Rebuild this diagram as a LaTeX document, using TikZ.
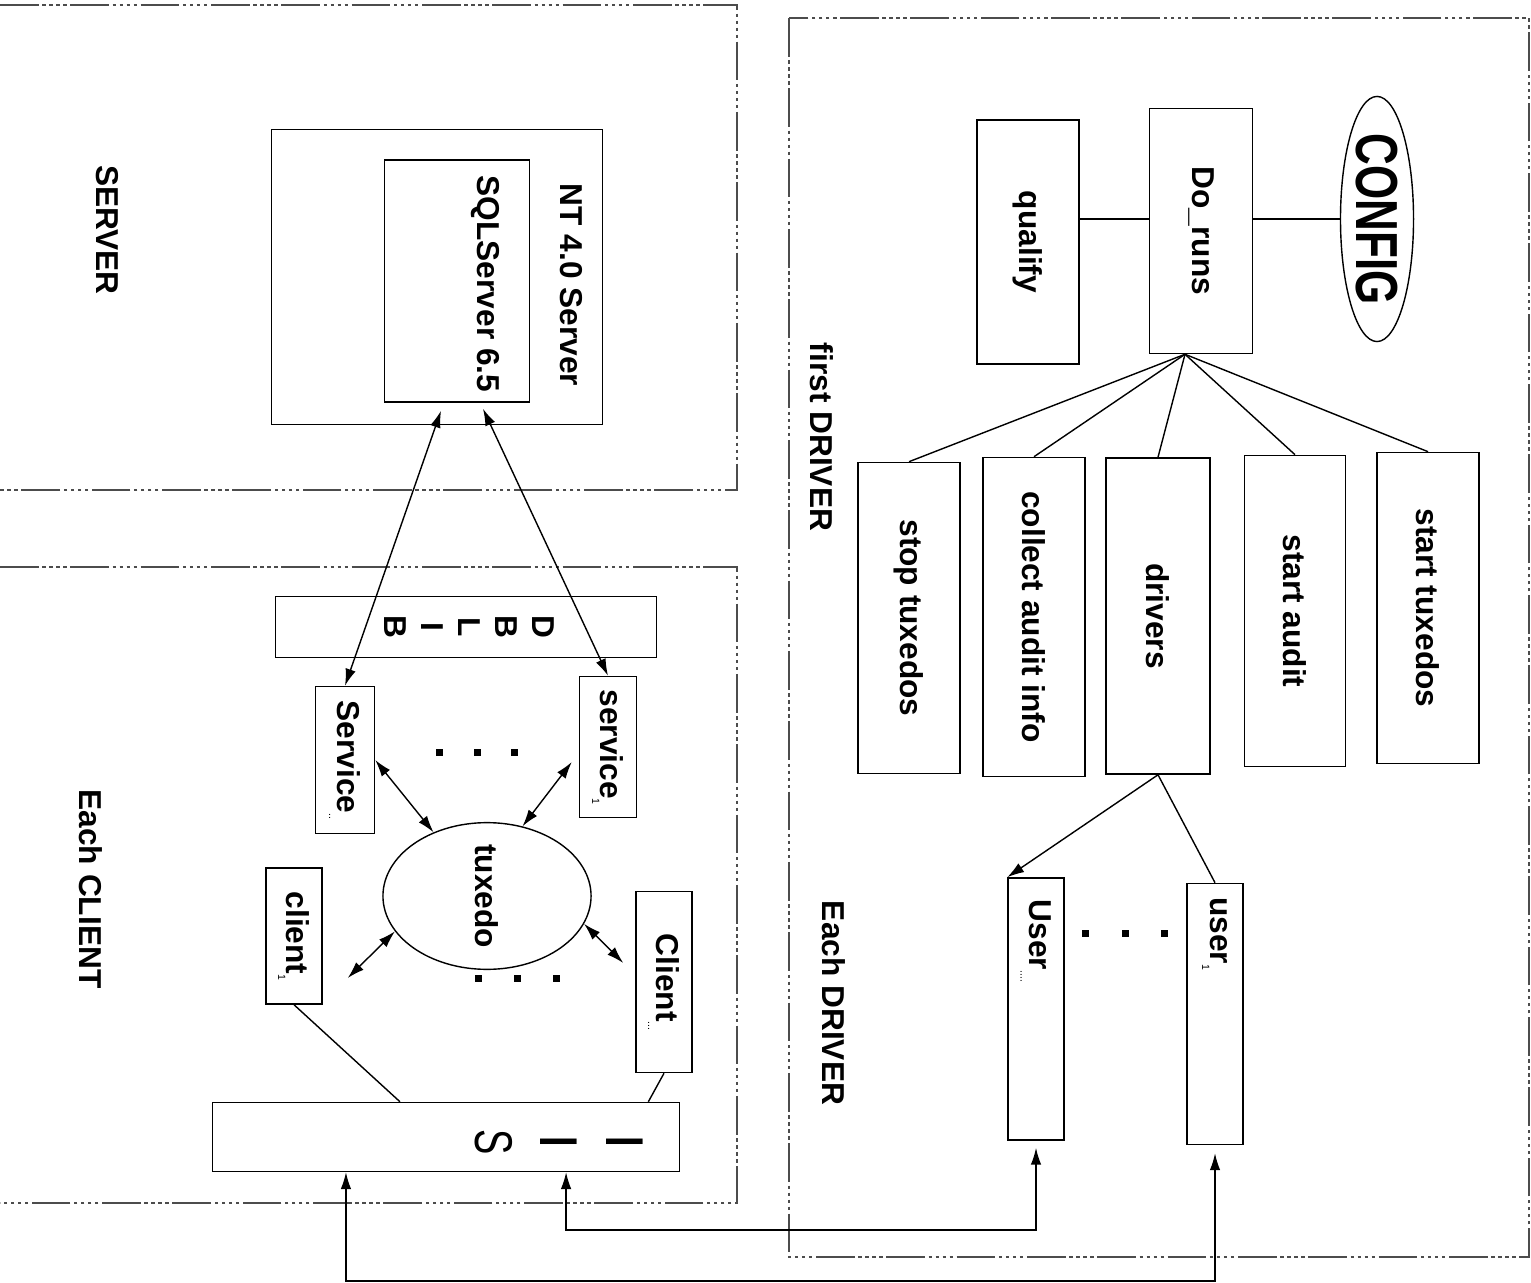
\documentclass[tikz,border=0pt]{standalone}
\usepackage{fontspec}
\setmainfont{Liberation Sans}
\usepackage{graphicx}
\usetikzlibrary{shapes.geometric, arrows.meta}
\newcommand\rot[1]{\rotatebox{-90}{#1}}
\newcommand\sub[1]{\raisebox{-2.5pt}{\fontsize{3}{3}\selectfont\mdseries #1}}
\newcommand\tall[1]{\scalebox{1}[1.4]{#1}}

\begin{document}
\begin{tikzpicture}[x=0.01cm, y=-0.01cm,
    box/.style={draw, rectangle, inner sep=0pt},
    oval/.style={draw, ellipse, inner sep=0pt},
    lbl/.style={inner sep=0pt},
    zone/.style={draw=black!70, dash pattern=on 11pt off 1pt on 1pt off 1pt on 1pt off 1pt on 1pt off 1pt on 1pt off 1pt},
    font=\fontsize{9}{10.5}\selectfont\bfseries, >={Latex[length=4.8pt,width=3pt]}]
    \useasboundingbox (0,0) rectangle (1531,1283);

    % Frames
    \draw[zone] (0,5) -- (737,5) -- (737,490) -- (0,490);
    \draw[zone] (0,567) -- (737,567) -- (737,1203) -- (0,1203);
    \draw[zone] (789,18) rectangle (1529,1257);

    % Titles
    \node[lbl] (tserver) at (107,230) {\rot{SERVER}};
    \node[lbl] (tclient) at (91,889) {\rot{Each CLIENT}};
    \node[lbl] (tfirst) at (822,437) {\rot{first DRIVER}};
    \node[lbl] (teach) at (834,1003) {\rot{Each DRIVER}};

    % Server
    \node[box, minimum width=3.31cm, minimum height=2.95cm] (nt) at (437,277) {};
    \node[box, minimum width=1.45cm, minimum height=2.42cm] (sql) at (457,281) {};
    \node[lbl] (ntlbl) at (571,285) {\rot{NT 4.0 Server}};
    \node[lbl] (sqllbl) at (485,284) {\rot{SQLServer 6.5}};

    % Client
    \node[box, minimum width=3.81cm, minimum height=0.61cm] (dblib) at (466,627)
      {\rot{\begin{tabular}{@{}c@{}}D\\B\\L\\I\\B\end{tabular}}};
    \node[box, minimum width=0.57cm, minimum height=1.41cm] (svc1) at (608,747) {\rot{service\sub{1}}};
    \node[box, minimum width=0.59cm, minimum height=1.47cm] (svcn) at (345,760) {\rot{Service\sub{..}}};
    \node[oval, minimum width=2.08cm, minimum height=1.17cm] (tux) at (487,896) {\rot{tuxedo}};
    \node[box, minimum width=0.56cm, minimum height=1.36cm] (cli1) at (294,936) {\rot{client\sub{1}}};
    \node[box, minimum width=0.56cm, minimum height=1.81cm] (clin) at (664,982) {\rot{Client\sub{...}}};
    \node[box, minimum width=4.67cm, minimum height=0.69cm] (iis) at (446,1137) {};
    \node[lbl, font=\fontsize{10.8}{18.5}\selectfont] (iislbl) at (554,1142)
      {\rot{\begin{tabular}{@{}c@{}}\tall{\bfseries I}\\\tall{\bfseries I}\\\tall{S}\end{tabular}}};

    % Driver
    \node[oval, minimum width=0.73cm, minimum height=2.45cm] (config) at (1377,219)
      {\rot{\scalebox{1}[1.35]{\fontsize{12.5}{14}\selectfont CONFIG}}};
    \node[box, minimum width=1.03cm, minimum height=2.45cm] (doruns) at (1201,231) {\rot{Do\_runs}};
    \node[box, minimum width=1.02cm, minimum height=2.44cm] (qualify) at (1028,242) {\rot{qualify}};
    \node[box, minimum width=1.02cm, minimum height=3.11cm] (stoptux) at (909,618) {\rot{stop tuxedos}};
    \node[box, minimum width=1.02cm, minimum height=3.19cm] (collect) at (1034,617) {\rot{collect audit info}};
    \node[box, minimum width=1.04cm, minimum height=3.16cm] (drivers) at (1158,616) {\rot{drivers}};
    \node[box, minimum width=1.01cm, minimum height=3.11cm] (startaud) at (1295,611) {\rot{start audit}};
    \node[box, minimum width=1.02cm, minimum height=3.11cm] (starttux) at (1428,608) {\rot{start tuxedos}};
    \node[box, minimum width=0.56cm, minimum height=2.62cm] (usern) at (1036,1009)
      {\rot{\makebox[2.18cm][l]{User\sub{....}}}};
    \node[box, minimum width=0.56cm, minimum height=2.61cm] (user1) at (1215,1014)
      {\rot{\makebox[2.33cm][l]{user\sub{1}}}};

    % Dots
    \foreach \x in {439,477,514} \fill (\x,752) +(-3.5,-3.5) rectangle +(3.5,3.5);
    \foreach \x in {478,517,556} \fill (\x,978) +(-3.5,-3.5) rectangle +(3.5,3.5);
    \foreach \x in {1085,1125,1164} \fill (\x,933) +(-3.5,-3.5) rectangle +(3.5,3.5);

    % Links
    \draw (qualify.east |- config) -- (doruns.west |- config);
    \draw (doruns.east |- config) -- (config.west);
    \foreach \t in {stoptux,collect,drivers,startaud,starttux}
      \draw ([xshift=-.16cm]doruns.south) -- (\t.north);
    \draw[->] (drivers.south) -- (usern.north west);
    \draw (drivers.south) -- (user1.north);

    \draw[<->] ([xshift=-.16cm,yshift=-.08cm]sql.south) -- (svcn.north);
    \draw[<->] ([xshift=.26cm,yshift=-.06cm]sql.south) -- (svc1.north);
    \draw[<->] ([xshift=-.07cm,yshift=-.15cm]svc1.west) -- (tux.63);
    \draw[<->] (svcn.east) -- (tux.130);
    \draw[<->] (tux.201) -- ([xshift=.25cm,yshift=-.42cm]cli1.east);
    \draw[<->] (tux.-16) -- ([xshift=-.12cm,yshift=.19cm]clin.west);
    \draw (cli1.south) -- ([xshift=-.46cm]iis.north);
    \draw (clin.south) -- ([xshift=-.32cm]iis.north east);

    % Buses
    \coordinate (busA) at (0,1281);
    \coordinate (busB) at (0,1230);
    \coordinate (iisA) at ([xshift=-1cm]iis.south);
    \coordinate (iisB) at ([xshift=1.2cm]iis.south);
    \draw[<->] (iisA) -- (iisA |- busA) -| ([yshift=-.08cm]user1.south);
    \draw[<->] (iisB) -- (iisB |- busB) -| ([yshift=-.07cm]usern.south);
\end{tikzpicture}
\end{document}
